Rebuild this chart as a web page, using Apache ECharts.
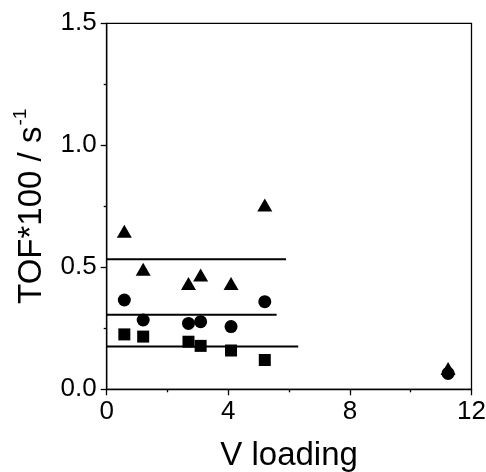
<!DOCTYPE html>
<html>
<head>
<meta charset="utf-8">
<script src="https://cdn.jsdelivr.net/npm/echarts@6/dist/echarts.min.js"></script>
<style>
html, body { margin: 0; padding: 0; background: #fff; }
#chart { width: 486px; height: 472px; }
</style>
</head>
<body>
<div id="chart"></div>
<script>
// V loading of each sample
var loading = [0.58, 1.2, 2.69, 3.09, 4.09, 5.2, 11.23];
// TOF*100 values, one array per symbol
var triVals = [0.648, 0.492, 0.434, 0.468, 0.434, 0.755, 0.085];
var cirVals = [0.366, 0.284, 0.270, 0.277, 0.257, 0.359, 0.065];
var sqVals = [0.225, 0.216, 0.195, 0.178, 0.159, 0.120];
// horizontal levels: [y, end x]
var lineTri = [0.533, 5.9];
var lineCir = [0.306, 5.59];
var lineSq = [0.175, 6.3];

var xTicks = [0, 4, 8, 12];
var yTicks = [0.0, 0.5, 1.0, 1.5];

var font = "'Liberation Sans', Arial, sans-serif";

function pts(vals) {
    var out = [];
    for (var i = 0; i < vals.length; i++) {
        out.push([loading[i], vals[i]]);
    }
    return out;
}

function level(l) {
    return {
        type: 'line',
        data: [[0, l[0]], [l[1], l[0]]],
        symbol: 'none',
        lineStyle: { color: '#000', width: 2 },
        silent: true,
        z: 1
    };
}

function dots(vals, sym, size) {
    return {
        type: 'scatter',
        data: pts(vals),
        symbol: sym,
        symbolSize: size,
        itemStyle: { color: '#000', opacity: 1 },
        z: 3
    };
}

var option = {
    animation: false,
    backgroundColor: '#fff',
    grid: {
        left: 106.7,
        right: 14.5,
        top: 23.3,
        bottom: 82.7,
        outerBoundsMode: 'none',
        containLabel: false,
        show: true,
        borderColor: '#000',
        borderWidth: 1.3,
        backgroundColor: 'transparent'
    },
    xAxis: {
        type: 'value',
        min: 0,
        max: 12,
        interval: 4,
        name: 'V loading',
        nameLocation: 'middle',
        nameGap: 50,
        nameTextStyle: { color: '#000', fontSize: 33, fontFamily: font },
        axisLine: { lineStyle: { color: '#000', width: 1.3 } },
        axisTick: { show: true, inside: false, length: 6, lineStyle: { color: '#000', width: 1.3 } },
        minorTick: { show: true, splitNumber: 2, length: 3, lineStyle: { color: '#000', width: 1.3 } },
        splitLine: { show: false },
        axisLabel: {
            color: '#000', fontSize: 26, fontFamily: font, margin: 10,
            formatter: function(v) { return xTicks.indexOf(v) >= 0 ? String(v) : ''; }
        }
    },
    yAxis: {
        type: 'value',
        min: 0,
        max: 1.5,
        interval: 0.5,
        name: '{a|TOF*100 / s}{b|-1}',
        nameLocation: 'middle',
        nameGap: 58,
        nameRotate: 90,
        nameTextStyle: {
            color: '#000', fontFamily: font,
            rich: {
                a: { fontSize: 33, fontFamily: font, color: '#000', lineHeight: 37, verticalAlign: 'bottom' },
                b: { fontSize: 19, fontFamily: font, color: '#000', lineHeight: 37, verticalAlign: 'top', padding: [0, 0, 15, 1] }
            }
        },
        axisLine: { lineStyle: { color: '#000', width: 1.3 } },
        axisTick: { show: true, inside: false, length: 6, lineStyle: { color: '#000', width: 1.3 } },
        minorTick: { show: true, splitNumber: 2, length: 3, lineStyle: { color: '#000', width: 1.3 } },
        splitLine: { show: false },
        axisLabel: {
            color: '#000', fontSize: 26, fontFamily: font, margin: 10,
            formatter: function(v) {
                for (var i = 0; i < yTicks.length; i++) {
                    if (Math.abs(yTicks[i] - v) < 1e-9) return yTicks[i].toFixed(1);
                }
                return '';
            }
        }
    },
    series: [
        level(lineTri),
        level(lineCir),
        level(lineSq),
        dots(sqVals, 'rect', 12),
        dots(cirVals, 'circle', 13),
        dots(triVals, 'triangle', [15, 13])
    ]
};

echarts.init(document.getElementById('chart')).setOption(option);
</script>
</body>
</html>
